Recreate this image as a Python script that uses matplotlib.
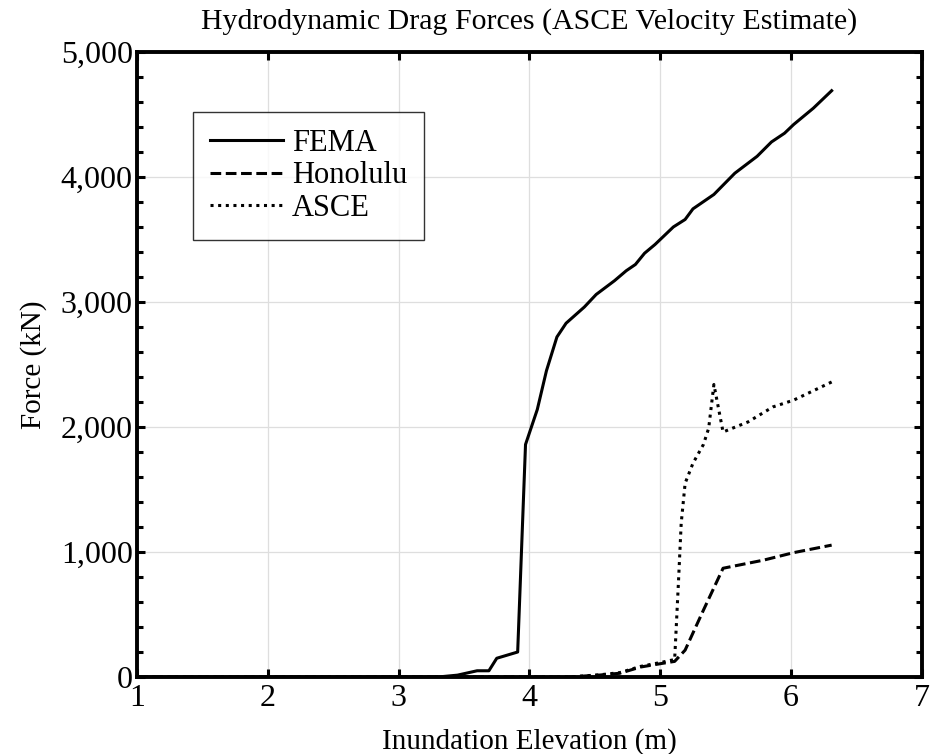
import matplotlib
matplotlib.use("Agg")
import matplotlib.pyplot as plt
from matplotlib.ticker import FuncFormatter, MultipleLocator

# Data
fema_x = [1.0, 3.3, 3.45, 3.6, 3.69, 3.75, 3.91, 3.97, 4.06, 4.13, 4.21, 4.28, 4.42,
          4.51, 4.65, 4.74, 4.81, 4.88, 4.96, 5.10, 5.19, 5.25, 5.41, 5.57, 5.74,
          5.85, 5.95, 6.02, 6.17, 6.31]
fema_y = [0, 0, 15, 50, 50, 150, 200, 1860, 2140, 2450, 2720, 2830, 2960,
          3060, 3170, 3250, 3300, 3390, 3460, 3600, 3660, 3745, 3860, 4030, 4165,
          4280, 4350, 4420, 4550, 4690]

hon_x = [1.0, 4.3, 4.54, 4.69, 4.85, 5.02, 5.11, 5.19, 5.33, 5.48, 5.79, 6.02, 6.31]
hon_y = [0, 0, 16, 30, 80, 110, 125, 215, 535, 870, 935, 995, 1055]

asce_x = [1.0, 4.3, 4.54, 4.69, 4.85, 5.02, 5.11, 5.14, 5.16, 5.19, 5.25, 5.33, 5.37,
          5.41, 5.48, 5.67, 5.86, 6.02, 6.31]
asce_y = [0, 0, 18, 35, 85, 120, 140, 780, 1230, 1550, 1710, 1860, 1990,
          2340, 1960, 2040, 2160, 2215, 2360]

plt.rcParams['font.family'] = ['Liberation Serif', 'DejaVu Serif']

fig = plt.figure(figsize=(9.35, 7.54), dpi=100)
ax = fig.add_axes([0.1465, 0.1021, 0.8395, 0.829])

ax.plot(fema_x, fema_y, color='k', lw=2.2, linestyle='-', label='FEMA')
ax.plot(hon_x, hon_y, color='k', lw=2.2, linestyle=(0, (3.5, 1.5)), label='Honolulu')
ax.plot(asce_x, asce_y, color='k', lw=2.2, linestyle=(0, (1.0, 1.5)), label='ASCE')

ax.set_xlim(1, 7)
ax.set_ylim(0, 5000)
ax.xaxis.set_major_locator(MultipleLocator(1))
ax.yaxis.set_major_locator(MultipleLocator(1000))
ax.yaxis.set_minor_locator(MultipleLocator(200))
ax.yaxis.set_major_formatter(FuncFormatter(lambda v, p: f"{int(v):,}"))

ax.grid(True, which='major', color='#dedede', lw=0.9)
ax.set_axisbelow(True)

for s in ax.spines.values():
    s.set_linewidth(2.8)

ax.tick_params(which='both', direction='in', top=True, right=True, labelsize=23,
               width=2.2, color='k')
ax.tick_params(which='major', length=6, pad=3)
ax.tick_params(which='minor', length=4)
ax.tick_params(axis='x', pad=5)

ax.set_title('Hydrodynamic Drag Forces (ASCE Velocity Estimate)', fontsize=21.5, pad=17)
ax.set_xlabel('Inundation Elevation (m)', fontsize=21, labelpad=11)
ax.set_ylabel('Force (kN)', fontsize=21, labelpad=10)

leg = ax.legend(loc='upper left', bbox_to_anchor=(0.071, 0.904), fontsize=22,
                frameon=True, fancybox=False, handlelength=2.4, handletextpad=0.3,
                borderpad=0.55, labelspacing=0.12, borderaxespad=0)
leg.get_frame().set_edgecolor('k')
leg.get_frame().set_linewidth(1.0)

fig.savefig('out.png', dpi=100)
